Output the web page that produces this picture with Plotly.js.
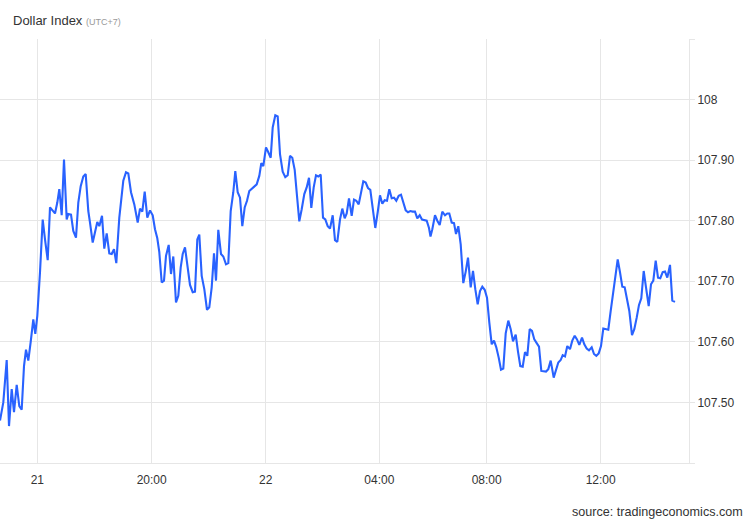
<!DOCTYPE html>
<html>
<head>
<meta charset="utf-8">
<script src="https://cdn.plot.ly/plotly-3.0.1.min.js"></script>
<style>html,body{margin:0;padding:0;background:#fff;}#chart{width:750px;height:520px;}</style>
</head>
<body>
<div id="chart"></div>
<script>
// time index (trading-time position along the session axis)
const t = [0,3.3,6.7,9,11.7,14,16.7,19.3,21.7,24,26,28.3,30.7,33.3,35.3,37.3,40,42.7,45,47.7,50,52.7,55,57.3,59.3,61.7,64,66.7,68.3,71,73.3,76,78.3,80.7,83.3,85.7,88.3,90,92.7,95,97.3,99.3,102,104.3,106.7,109.3,111.7,114,116.3,
119.3,123.3,126,128.3,131,134.3,137.7,140,142.3,144.7,147.3,150,152.7,155,157.3,159.3,161.7,164,166,168.7,171,173.3,176,178.3,180.7,182.7,185,187.3,190,192.7,195,197.3,199.3,201.7,204.3,207,209.3,211.7,214,216,218.3,221,223.3,226,228.3,
230.7,233.3,235.3,237.7,240,242.3,244.7,247,249.3,252,254.7,256.7,259.3,261.3,263.3,266,268.3,270.7,272.7,275.3,277.7,280,282.7,285.3,287.7,290,292.3,294.7,297,299.3,301.7,304.3,306.7,309,311.3,313.7,316,318.3,320.7,323,325.3,327.7,330,
332.7,335,337.3,340,342.3,344.7,346.7,349,351.7,354,356.3,358.7,361,363.3,365.7,368,370.3,372.7,375.3,377.7,380,382.3,384.7,387,389.3,391.7,394,396.3,398.7,401,403.3,405.7,408,410.3,412.7,415,417.3,419.7,422,424.3,426.7,429,430.5,432.3,435,437.3,439.7,
442.3,445,447.3,449.3,451.7,454,456,458.3,460.7,463.3,465.7,468,470.7,473,475.3,477.7,480,482.3,484.7,487,489.3,491.7,494,496.3,498.7,501,503.3,505.7,508.3,510.7,513,515.7,518,520.3,522.7,525,527.3,529.7,532,534.3,536.7,539,541.3,543.7,546,548.3,550.7,553.7,556,558.3,560.7,
562.7,565,567.3,570,572.3,574.7,577,579.3,582,584.3,586.7,589,591.7,594,596.3,598.7,601,603.3,605.7,608.3,610.7,613,615.3,617.7,620,622.3,624.7,627,629.3,632,634.3,636.7,639,641.3,643.7,646,648.7,651,653.3,655.7,658,660.3,662.7,665,667.3,670,672.3,675];

const price = [107.470,107.500,107.570,107.461,107.522,107.484,107.529,107.494,107.488,107.560,107.587,107.569,107.600,107.637,107.613,107.643,107.715,107.802,107.769,107.735,107.822,107.816,107.812,107.830,107.852,107.809,107.901,107.802,107.811,107.810,107.783,107.772,107.830,107.857,107.873,107.877,107.816,107.797,107.764,107.781,107.798,107.791,107.808,107.754,107.779,107.746,107.745,107.753,107.730,
107.805,107.866,107.880,107.878,107.847,107.827,107.797,107.820,107.815,107.848,107.805,107.817,107.809,107.786,107.771,107.748,107.698,107.701,107.742,107.760,107.712,107.741,107.665,107.676,107.723,107.745,107.756,107.725,107.694,107.682,107.683,107.769,107.777,107.709,107.687,107.653,107.657,107.690,107.746,107.701,107.785,107.745,107.741,107.728,107.730,
107.816,107.847,107.882,107.847,107.838,107.791,107.822,107.833,107.849,107.853,107.857,107.860,107.874,107.895,107.890,107.921,107.913,107.904,107.954,107.974,107.972,107.910,107.881,107.872,107.875,107.907,107.904,107.884,107.841,107.799,107.819,107.844,107.855,107.871,107.821,107.855,107.875,107.873,107.876,107.805,107.802,107.791,107.787,
107.809,107.768,107.765,107.802,107.820,107.804,107.812,107.837,107.808,107.835,107.833,107.827,107.849,107.865,107.863,107.854,107.851,107.823,107.788,107.814,107.842,107.828,107.834,107.833,107.852,107.837,107.838,107.833,107.841,107.843,107.830,107.817,107.814,107.816,107.815,107.815,107.804,107.809,107.802,107.801,107.800,107.788,107.774,107.786,107.809,107.800,107.793,
107.815,107.809,107.812,107.812,107.797,107.796,107.778,107.791,107.761,107.697,107.716,107.739,107.690,107.717,107.687,107.662,107.684,107.691,107.686,107.673,107.632,107.596,107.602,107.591,107.574,107.554,107.556,107.614,107.635,107.621,107.601,107.612,107.584,107.560,107.559,107.583,107.577,107.621,107.618,107.604,107.598,107.592,107.552,107.552,107.551,107.555,107.569,107.541,107.555,107.566,107.570,
107.578,107.576,107.593,107.588,107.602,107.610,107.604,107.595,107.607,107.596,107.589,107.586,107.591,107.580,107.577,107.581,107.593,107.622,107.621,107.620,107.651,107.682,107.703,107.736,107.715,107.691,107.690,107.670,107.651,107.611,107.621,107.640,107.661,107.672,107.717,107.690,107.659,107.695,107.701,107.734,107.706,107.705,107.715,107.716,107.706,107.727,107.668,107.666];

const xTickPos = [37.3,151.7,265.7,379.3,486.7,600.7];
const xTickText = ['21','20:00','22','04:00','08:00','12:00'];
const yTickVals = [107.4,107.5,107.6,107.7,107.8,107.9,108.0,108.1];
const yTickText = ['','107.50','107.60','107.70','107.80','107.90','108',''];

const grid = '#e6e6e6';
const trace = {
  x: t, y: price, type: 'scatter', mode: 'lines',
  line: {color: '#2962ff', width: 2.1, shape: 'linear'},
  hoverinfo: 'skip'
};
const layout = {
  width: 750, height: 520,
  margin: {l: 0, r: 61, t: 39, b: 57, pad: 0},
  paper_bgcolor: '#ffffff', plot_bgcolor: '#ffffff',
  font: {family: 'Liberation Sans, Arial, sans-serif', color: '#333333', size: 12},
  showlegend: false,
  title: {
    text: 'Dollar Index <span style="font-size:9px;color:#999999">(UTC+7)</span>',
    font: {size: 13, color: '#333333', family: 'Liberation Sans, Arial, sans-serif'},
    xref: 'container', yref: 'container', x: 13/750, xanchor: 'left', y: 1 - 20/520, yanchor: 'middle'
  },
  xaxis: {
    range: [0, 689], tickmode: 'array', tickvals: xTickPos, ticktext: xTickText,
    showgrid: true, gridcolor: grid, gridwidth: 1, zeroline: false,
    showline: true, linecolor: grid, linewidth: 1, ticks: '',
    ticklabelstandoff: 6,
    tickfont: {size: 12, color: '#333333'}, fixedrange: true
  },
  yaxis: {
    side: 'right', range: [107.4, 108.1], tickmode: 'array', tickvals: yTickVals, ticktext: yTickText,
    showgrid: true, gridcolor: grid, gridwidth: 1, zeroline: false,
    showline: true, linecolor: grid, linewidth: 1,
    ticks: 'outside', ticklen: 5, tickcolor: grid,
    tickfont: {size: 12, color: '#333333'}, fixedrange: true
  },
  annotations: [{
    text: 'source: tradingeconomics.com', xref: 'paper', yref: 'paper',
    x: 745/689, y: -49/424, xanchor: 'right', yanchor: 'middle', showarrow: false,
    font: {size: 12.6, color: '#333333'}
  }]
};
Plotly.newPlot('chart', [trace], layout, {displayModeBar: false, staticPlot: true});
</script>
</body>
</html>
